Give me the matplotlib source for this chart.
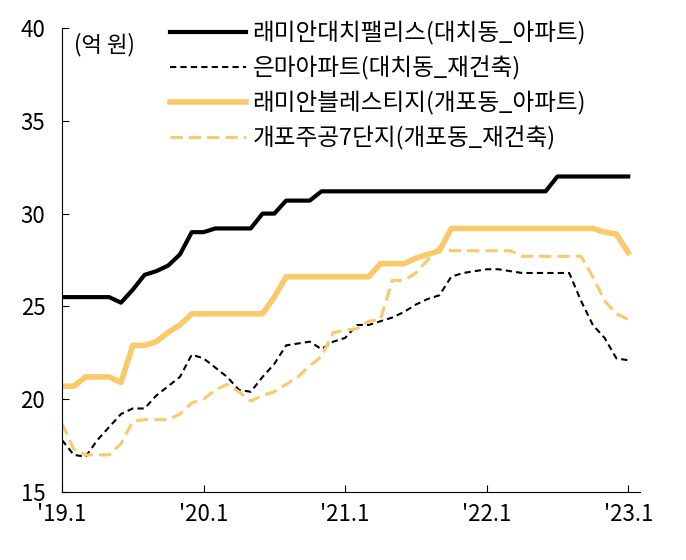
import matplotlib
matplotlib.use("Agg")
import matplotlib.pyplot as plt
plt.rcParams['font.family'] = ['Noto Sans CJK KR']

months = list(range(49))
raemian_daechi = [25.5,25.5,25.5,25.5,25.5,25.2,25.9,26.7,26.9,27.2,27.8,29.0,29.0,29.2,29.2,29.2,29.2,30.0,30.0,30.7,30.7,30.7]+[31.2]*20+[32.0]*7
eunma = [17.8,17.0,16.9,17.8,18.5,19.2,19.5,19.5,20.2,20.7,21.2,22.4,22.2,21.7,21.2,20.5,20.4,21.2,21.9,22.9,23.0,23.1,22.7,23.1,23.3,24.0,24.0,24.2,24.4,24.7,25.1,25.4,25.6,26.6,26.8,26.9,27.0,27.0,26.9,26.8,26.8,26.8,26.8,26.8,25.3,24.0,23.3,22.2,22.1]
raemian_bless = [20.7,20.7,21.2,21.2,21.2,20.9,22.9,22.9,23.1,23.6,24.0,24.6,24.6,24.6,24.6,24.6,24.6,24.6,25.5]+[26.6]*8+[27.3,27.3,27.3,27.6,27.8,28.0]+[29.2]*13+[29.0,28.9,27.9]
gaepo7 = [18.7,17.3,17.0,17.0,17.0,17.6,18.8,18.9,18.9,18.9,19.2,19.8,20.0,20.5,20.8,20.4,19.9,20.2,20.4,20.8,21.2,21.8,22.3,23.6,23.7,23.8,24.2,24.3,26.4,26.4,26.8,27.5,28.2]+[28.0]*6+[27.7]*6+[26.6,25.3,24.6,24.3]
tick_pos = [0,12,24,36,48]
tick_labels = ["'19.1","'20.1","'21.1","'22.1","'23.1"]

fig = plt.figure(figsize=(6.86,5.6), dpi=100)
ax = fig.add_axes([62/686, 68/560, 578/686, 464/560])
ax.plot(months, raemian_daechi, color='black', lw=3, label='래미안대치팰리스(대치동_아파트)')
ax.plot(months, eunma, color='black', lw=1.5, ls=(0,(3,2)), label='은마아파트(대치동_재건축)')
ax.plot(months, raemian_bless, color='#FBC96A', lw=4, label='래미안블레스티지(개포동_아파트)')
ax.plot(months, gaepo7, color='#FBC96A', lw=2.2, ls=(0,(4,2)), label='개포주공7단지(개포동_재건축)')
ax.set_xlim(0,49)
ax.set_ylim(15,40)
ax.set_yticks([15,20,25,30,35,40])
ax.set_xticks(tick_pos)
ax.set_xticklabels(tick_labels)
ax.tick_params(labelsize=16, direction='in', length=5)
ax.tick_params(axis='y', pad=12)
ax.tick_params(axis='x', pad=8)
for s in ['top','right']:
    ax.spines[s].set_visible(False)
ax.text(0.02, 0.99, '(억 원)', transform=ax.transAxes, fontsize=16, va='top')
ax.legend(loc='upper left', bbox_to_anchor=(0.15, 1.06), frameon=False, fontsize=17,
          handlelength=3.2, labelspacing=0.45, handletextpad=0.3)
fig.savefig('out.png', dpi=100)
